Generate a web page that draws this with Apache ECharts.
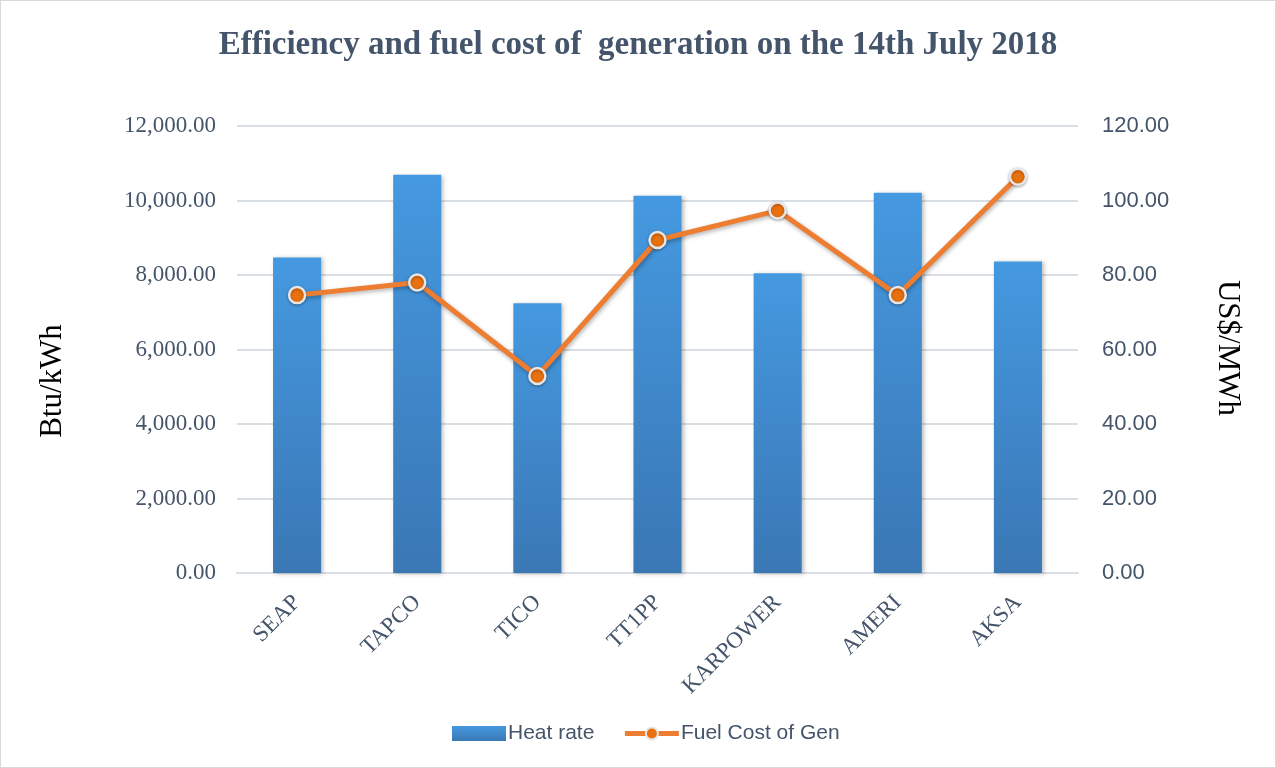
<!DOCTYPE html>
<html>
<head>
<meta charset="utf-8">
<script src="https://cdn.jsdelivr.net/npm/echarts@6/dist/echarts.min.js"></script>
<style>
html,body{margin:0;padding:0;background:#fff;}
#c{width:1276px;height:768px;box-sizing:border-box;border:1px solid #D9D9D9;}
</style>
</head>
<body>
<div id="c"></div>
<script>
const titleText = 'Efficiency and fuel cost of  generation on the 14th July 2018';
const categories = ['SEAP', 'TAPCO', 'TICO', 'TT1PP', 'KARPOWER', 'AMERI', 'AKSA'];
const heatRate = [8470, 10690, 7240, 10130, 8045, 10210, 8365];
const fuelCost = [74.6, 78.0, 52.9, 89.4, 97.3, 74.6, 106.4];
const leftTicks = [0, 2000, 4000, 6000, 8000, 10000, 12000];
const rightTicks = [0, 20, 40, 60, 80, 100, 120];
const leftAxisName = 'Btu/kWh';
const rightAxisName = 'US$/MWh';
const seriesNames = ['Heat rate', 'Fuel Cost of Gen'];

const slate = '#44546A';
const serif = '"Liberation Serif", "DejaVu Serif", serif';
const sans = '"Liberation Sans", "DejaVu Sans", sans-serif';

function fmt(v, dec) {
  return v.toLocaleString('en-US', {minimumFractionDigits: dec, maximumFractionDigits: dec});
}

const chart = echarts.init(document.getElementById('c'), null, {renderer: 'canvas'});
chart.setOption({
  animation: false,
  backgroundColor: '#fff',
  title: {
    text: titleText,
    left: 'center',
    top: 23,
    textStyle: {fontFamily: serif, fontWeight: 'bold', fontSize: 33, color: slate}
  },
  legend: {
    bottom: 18,
    left: 446,
    itemGap: 28,
    itemWidth: 54,
    itemHeight: 15,
    textStyle: {fontFamily: sans, fontSize: 21, color: slate, padding: [0, 0, 0, -3]},
    data: [
      {name: seriesNames[0], icon: 'rect'},
      {name: seriesNames[1], lineStyle: {width: 5, color: '#ED7D31'}}
    ]
  },
  grid: {left: 236, right: 197, top: 125, bottom: 194, containLabel: false},
  graphic: [
    {type: 'text', x: 52, y: 380, rotation: Math.PI / 2,
     style: {text: leftAxisName, font: '31px ' + serif, fill: '#000', align: 'center', verticalAlign: 'middle'}},
    {type: 'text', x: 1226, y: 347, rotation: -Math.PI / 2,
     style: {text: rightAxisName, font: '31px ' + serif, fill: '#000', align: 'center', verticalAlign: 'middle'}}
  ],
  xAxis: {
    type: 'category',
    data: categories,
    axisLine: {show: true, lineStyle: {color: '#D9DEE4', width: 2}},
    axisTick: {show: false},
    axisLabel: {rotate: 45, margin: 26, fontFamily: serif, fontSize: 23, color: slate}
  },
  yAxis: [
    {
      type: 'value', min: leftTicks[0], max: leftTicks[leftTicks.length - 1], interval: 2000,
      axisLine: {show: false}, axisTick: {show: false},
      splitLine: {lineStyle: {color: '#D9DEE4', width: 2}},
      axisLabel: {margin: 21, fontFamily: serif, fontSize: 23, color: slate, formatter: v => fmt(v, 2)}
    },
    {
      type: 'value', min: rightTicks[0], max: rightTicks[rightTicks.length - 1], interval: 20,
      axisLine: {show: false}, axisTick: {show: false},
      splitLine: {show: false},
      axisLabel: {margin: 24, fontFamily: sans, fontSize: 22, color: slate, formatter: v => fmt(v, 2)}
    }
  ],
  series: [
    {
      name: seriesNames[0],
      type: 'bar',
      yAxisIndex: 0,
      data: heatRate,
      barWidth: '40%',
      itemStyle: {
        color: new echarts.graphic.LinearGradient(0, 0, 0, 1, [
          {offset: 0, color: '#4599E0'},
          {offset: 1, color: '#3A77B5'}
        ]),
        shadowColor: 'rgba(0,0,0,0.25)', shadowBlur: 4, shadowOffsetX: 2, shadowOffsetY: 1
      }
    },
    {
      name: seriesNames[1],
      type: 'line',
      yAxisIndex: 1,
      data: fuelCost,
      symbol: 'circle',
      symbolSize: 16,
      lineStyle: {color: '#ED7D31', width: 5, shadowColor: 'rgba(0,0,0,0.3)', shadowBlur: 4, shadowOffsetX: 1, shadowOffsetY: 2},
      itemStyle: {
        color: '#E8700F', borderColor: '#E7E6E6', borderWidth: 2.5,
        shadowColor: 'rgba(0,0,0,0.3)', shadowBlur: 3, shadowOffsetY: 1
      }
    }
  ]
});
</script>
</body>
</html>
